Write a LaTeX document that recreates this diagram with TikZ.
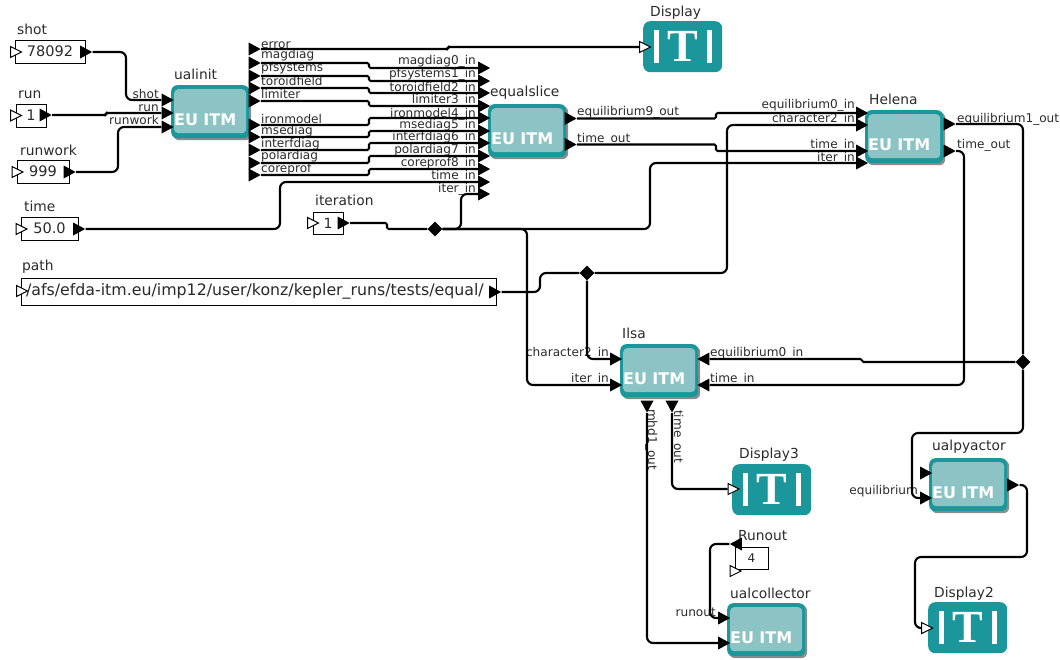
\documentclass[tikz,border=0pt]{standalone}
\usepackage{fontspec}
\setmainfont{DejaVu Sans}
\newfontfamily\displayfont{Liberation Serif}
\usetikzlibrary{shapes.geometric,shadows}
\definecolor{euteal}{HTML}{1B979B}
\definecolor{eupale}{HTML}{8CC4C5}
\definecolor{labelgray}{HTML}{2A2A2A}
\begin{document}
\begin{tikzpicture}[x=1pt,y=-1pt]
\tikzstyle{eubox}=[anchor=north west, rounded corners=6pt, fill=euteal, minimum width=78pt, minimum height=53pt, inner sep=0pt,
  drop shadow={shadow xshift=2pt, shadow yshift=-2pt, opacity=.45, fill=black},
  text=white, font=\bfseries\fontsize{16}{18}\selectfont, text width=72pt, align=left, text height=28pt, text depth=0pt,
  path picture={\fill[eupale, rounded corners=4pt] ([shift={(3pt,-4pt)}]path picture bounding box.north west) rectangle ([shift={(-3pt,5pt)}]path picture bounding box.south east);}]
\tikzstyle{displaybox}=[anchor=north west, rounded corners=7pt, fill=euteal, minimum width=79pt, minimum height=51pt, inner sep=0pt,
  text=white, font=\displayfont\bfseries\fontsize{46}{46}\selectfont,
  path picture={
    \fill[white, sharp corners] ([shift={(11pt,-9pt)}]path picture bounding box.north west) rectangle ([shift={(16pt,9pt)}]path picture bounding box.south west);
    \fill[white, sharp corners] ([shift={(-15pt,-9pt)}]path picture bounding box.north east) rectangle ([shift={(-10pt,9pt)}]path picture bounding box.south east);}]
\tikzstyle{const}=[draw, fill=white, line width=1pt, minimum height=23pt, inner sep=0pt, text=labelgray, font=\fontsize{14.5}{16}\selectfont]
\tikzstyle{title}=[anchor=base west, inner sep=0pt, text=labelgray, font=\fontsize{13.8}{16}\selectfont]
\tikzstyle{portleft}=[anchor=base east, inner sep=0pt, text=labelgray, font=\fontsize{12.1}{14}\selectfont]
\tikzstyle{portright}=[anchor=base west, inner sep=0pt, text=labelgray, font=\fontsize{12.1}{14}\selectfont]
\tikzstyle{portdown}=[anchor=base west, rotate=-90, inner sep=0pt, text=labelgray, font=\fontsize{12.1}{14}\selectfont]
\tikzstyle{inport}=[isosceles triangle, isosceles triangle stretches, fill=black, minimum width=13pt, minimum height=12pt, inner sep=0pt, xshift=-2pt]
\tikzstyle{backport}=[inport, shape border rotate=180, xshift=4pt]
\tikzstyle{downport}=[inport, shape border rotate=-90, xshift=2pt, yshift=-2pt]
\tikzstyle{hollow}=[isosceles triangle, isosceles triangle stretches, draw, fill=white, line width=1pt, minimum width=11pt, minimum height=11pt, inner sep=0pt, xshift=-1.5pt]
\tikzstyle{relation}=[diamond, fill=black, minimum size=15pt, inner sep=0pt]
\tikzstyle{wire}=[line width=2.1pt, rounded corners=6pt]
\tikzstyle{jog}=[line width=2.1pt, rounded corners=1.5pt]
\useasboundingbox (0,0) rectangle (1060,659);

% parameters
\node[const, minimum width=70pt] (shot) at (50,51.5) {78092};
\node[const, minimum width=30pt] (run) at (31,115.5) {1};
\node[const, minimum width=52pt] (runwork) at (43,171.5) {999};
\node[const, minimum width=57pt] (time) at (49.5,228.5) {50.0};
\node[const, minimum width=30pt, minimum height=22pt, font=\fontsize{14}{16}\selectfont] (iteration) at (328,223) {1};
\node[const, minimum width=475pt, minimum height=27pt, text width=465pt, align=left, font=\fontsize{15.8}{18}\selectfont] (path) at (258.5,291.5) {/afs/efda-itm.eu/imp12/user/konz/kepler\_runs/tests/equal/};
\node[const, minimum width=33pt, minimum height=22pt, font=\fontsize{12}{14}\selectfont] (runoutval) at (751.5,558) {4};
\node[title] (shot title) at (17,34) {shot};
\node[title] (run title) at (18,98) {run};
\node[title] (runwork title) at (20,155) {runwork};
\node[title] (time title) at (24,211) {time};
\node[title] (iteration title) at (315,205) {iteration};
\node[title] (path title) at (22,270) {path};
\node[title] (runout title) at (738,540) {Runout};

% actors
\node[eubox] (ualinit) at (171,85) {EU ITM};
\node[eubox] (equalslice) at (488,104) {EU ITM};
\node[eubox] (helena) at (865,110) {EU ITM};
\node[eubox] (ilsa) at (620,344) {EU ITM};
\node[eubox] (ualpy) at (929,458) {EU ITM};
\node[eubox] (ualcoll) at (727,603) {EU ITM};
\node[displaybox] (display) at (643,21) {T};
\node[displaybox] (display3) at (732,464) {T};
\node[displaybox] (display2) at (928,602) {T};
\node[title] (ualinit title) at (174,79) {ualinit};
\node[title] (equalslice title) at (490,96) {equalslice};
\node[title] (helena title) at (869,104) {Helena};
\node[title] (ilsa title) at (622,338) {Ilsa};
\node[title] (ualpy title) at (932,450) {ualpyactor};
\node[title] (ualcoll title) at (730,598) {ualcollector};
\node[title] (display title) at (650,16) {Display};
\node[title] (display3 title) at (739,458) {Display3};
\node[title] (display2 title) at (934,597) {Display2};

% parameter ports
\node[hollow] (shotin) at (15.5,52) {};
\node[inport] (shotout) at (86,52) {};
\node[hollow] (runin) at (15.5,115.5) {};
\node[inport] (runout) at (45.5,115) {};
\node[hollow] (runworkin) at (17,172) {};
\node[inport] (runworkout) at (69.5,172) {};
\node[hollow] (timein) at (21,229) {};
\node[inport] (timeout) at (79,229) {};
\node[hollow] (iterationin) at (312.5,223) {};
\node[inport] (iterationout) at (343.5,223) {};
\node[hollow] (pathin) at (21.5,291) {};
\node[inport] (pathout) at (495,292) {};
\node[hollow] (runoutin) at (735,571) {};
\node[backport] (runoutout) at (736,544) {};

% ualinit ports
\node[inport] (uashot) at (167.5,100) {};
\node[inport] (uarun) at (167.5,113) {};
\node[inport] (uarunwork) at (167.5,127) {};
\node[portleft] (uashot label) at (159,98) {shot};
\node[portleft] (uarun label) at (159,111) {run};
\node[portleft] (uarunwork label) at (159,124) {runwork};
\node[inport] (uaerror) at (254.5,49) {};
\node[inport] (uamagdiag) at (254.5,63) {};
\node[inport] (uapfsystems) at (254.5,76) {};
\node[inport] (uatoroid) at (254.5,88) {};
\node[inport] (ualimiter) at (254.5,101) {};
\node[inport] (uairon) at (254.5,125) {};
\node[inport] (uamse) at (254.5,137) {};
\node[inport] (uainterf) at (254.5,150) {};
\node[inport] (uapolar) at (254.5,163) {};
\node[inport] (uacore) at (254.5,175) {};
\node[portright] (uaerror label) at (261,48) {error};
\node[portright] (uamagdiag label) at (261,58) {magdiag};
\node[portright] (uapfsystems label) at (261,71) {pfsystems};
\node[portright] (uatoroid label) at (261,85) {toroidfield};
\node[portright] (ualimiter label) at (261,98) {limiter};
\node[portright] (uairon label) at (261,123) {ironmodel};
\node[portright] (uamse label) at (261,134) {msediag};
\node[portright] (uainterf label) at (261,147) {interfdiag};
\node[portright] (uapolar label) at (261,159) {polardiag};
\node[portright] (uacore label) at (261,172) {coreprof};

% equalslice ports
\node[inport] (eqmagdiag) at (484,68) {};
\node[inport] (eqpfsystems) at (484,81) {};
\node[inport] (eqtoroid) at (484,93) {};
\node[inport] (eqlimiter) at (484,106) {};
\node[inport] (eqiron) at (484,118) {};
\node[inport] (eqmse) at (484,131) {};
\node[inport] (eqinterf) at (484,143) {};
\node[inport] (eqpolar) at (484,156) {};
\node[inport] (eqcore) at (484,169) {};
\node[inport] (eqtime) at (484,182) {};
\node[inport] (eqiter) at (484,194) {};
\node[portleft] (eqmagdiag label) at (476,64) {magdiag0\_in};
\node[portleft] (eqpfsystems label) at (476,77) {pfsystems1\_in};
\node[portleft] (eqtoroid label) at (476,91) {toroidfield2\_in};
\node[portleft] (eqlimiter label) at (476,103) {limiter3\_in};
\node[portleft] (eqiron label) at (476,117) {ironmodel4\_in};
\node[portleft] (eqmse label) at (476,128) {msediag5\_in};
\node[portleft] (eqinterf label) at (476,140) {interfdiag6\_in};
\node[portleft] (eqpolar label) at (476,153) {polardiag7\_in};
\node[portleft] (eqcore label) at (476,166) {coreprof8\_in};
\node[portleft] (eqtime label) at (476,179) {time\_in};
\node[portleft] (eqiter label) at (476,192) {iter\_in};
\node[inport] (eqout) at (570.5,118.5) {};
\node[inport] (eqtimeout) at (570.5,144.5) {};
\node[portright] (eqout label) at (577,115) {equilibrium9\_out};
\node[portright] (eqtimeout label) at (577,142) {time\_out};

% Helena ports
\node[inport] (heequil) at (862,113) {};
\node[inport] (hechar) at (862,125) {};
\node[inport] (hetime) at (862,151) {};
\node[inport] (heiter) at (862,163) {};
\node[portleft] (heequil label) at (855,108) {equilibrium0\_in};
\node[portleft] (hechar label) at (855,122) {character2\_in};
\node[portleft] (hetime label) at (855,148) {time\_in};
\node[portleft] (heiter label) at (855,161) {iter\_in};
\node[inport] (heout) at (949.5,124) {};
\node[inport] (hetimeout) at (949.5,151) {};
\node[portright] (heout label) at (957,122) {equilibrium1\_out};
\node[portright] (hetimeout label) at (957,148) {time\_out};

% Ilsa ports
\node[inport] (ilchar) at (616,359) {};
\node[inport] (iliter) at (616,385) {};
\node[portleft] (ilchar label) at (609,356) {character2\_in};
\node[portleft] (iliter label) at (609,382) {iter\_in};
\node[backport] (ilequil) at (703.5,359) {};
\node[backport] (iltime) at (703.5,385) {};
\node[portright] (ilequil label) at (710,356) {equilibrium0\_in};
\node[portright] (iltime label) at (710,382) {time\_in};
\node[downport] (ilmhd) at (647,402.5) {};
\node[downport] (iltimeout) at (672,402.5) {};
\node[portdown] (ilmhd label) at (648,409) {mhd1\_out};
\node[portdown] (iltimeout label) at (674,410) {time\_out};

% remaining ports
\node[hollow] (displayin) at (644.5,47) {};
\node[hollow] (display3in) at (733,489) {};
\node[hollow] (display2in) at (926.5,628) {};
\node[inport] (ucrun) at (724,618) {};
\node[inport] (ucmhd) at (724,643) {};
\node[portleft] (ucrun label) at (716,616) {runout};
\node[inport] (uptop) at (926,473) {};
\node[inport] (upequil) at (926,498) {};
\node[portleft] (upequil label) at (918,494) {equilibrium};
\node[inport] (upout) at (1013,485) {};

% relations
\node[relation] (rel1) at (435,229) {};
\node[relation] (rel2) at (587,273) {};
\node[relation] (rel3) at (1023,362) {};

% wires
\draw[wire] (shotout) -- ++(42,0) |- (uashot);
\draw[jog] (runout) -- ++(62.5,0) |- (uarun);
\draw[wire] (runworkout) -- ++(50.5,0) |- (uarunwork);
\draw[wire] (timeout) -- ++(203,0) |- (eqtime);
\draw[jog] (uaerror) -- ++(195.5,0) |- (displayin);
\draw[jog] (uamagdiag) -- ++(116.5,0) |- (eqmagdiag);
\draw[jog] (uapfsystems) -- ++(116.5,0) |- (eqpfsystems);
\draw[jog] (uatoroid) -- ++(116.5,0) |- (eqtoroid);
\draw[jog] (ualimiter) -- ++(116.5,0) |- (eqlimiter);
\draw[jog] (uairon) -- ++(116.5,0) |- (eqiron);
\draw[jog] (uamse) -- ++(116.5,0) |- (eqmse);
\draw[jog] (uainterf) -- ++(116.5,0) |- (eqinterf);
\draw[jog] (uapolar) -- ++(116.5,0) |- (eqpolar);
\draw[jog] (uacore) -- ++(116.5,0) |- (eqcore);
\draw[jog] (iterationout) -- ++(45.5,0) |- (rel1);
\draw[wire] (rel1) -- ++(26,0) |- (eqiter);
\draw[wire] (rel1) -- ++(215,0) |- (heiter);
\draw[wire] (rel1) -- ++(92,0) |- (iliter);
\draw[wire] (pathout) -- ++(47,0) |- (rel2);
\draw[wire] (rel2) -- ++(140,0) |- (hechar);
\draw[wire] (rel2) |- (ilchar);
\draw[jog] (eqout) -- ++(147.5,0) |- (heequil);
\draw[jog] (eqtimeout) -- ++(147.5,0) |- (hetime);
\draw[wire] (heout) -| (rel3);
\draw[wire] (hetimeout) -- ++(16.5,0) |- (iltime);
\draw[jog] (rel3) -- ++(-161,0) |- (ilequil);
\draw[wire] (rel3) -- ++(0,71) -- ++(-111,0) |- (upequil);
\draw[wire] (ilmhd) |- (ucmhd);
\draw[wire] (iltimeout) |- (display3in);
\draw[wire] (runoutout) -- ++(-28,0) |- (ucrun);
\draw[wire] (upout) -- ++(16,0) -- ++(0,72) -- ++(-112,0) |- (display2in);
\end{tikzpicture}
\end{document}
